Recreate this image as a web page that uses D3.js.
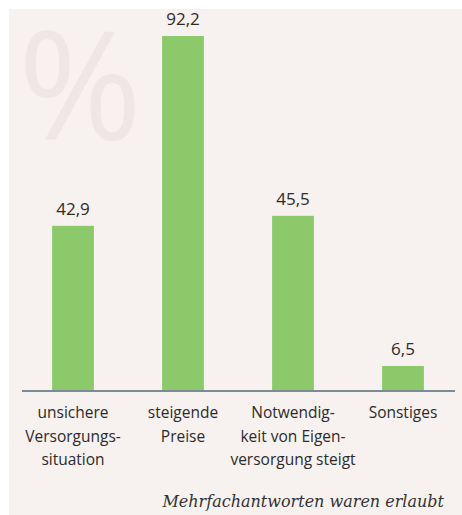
<!DOCTYPE html>
<html>
<head>
<meta charset="utf-8">
<script src="https://cdn.jsdelivr.net/npm/d3@7"></script>
<style>
  html, body { margin: 0; padding: 0; background: #ffffff; }
  svg { display: block; }
</style>
</head>
<body>
<div id="chart"></div>
<script>
// survey answers, percent (multiple answers allowed)
const categories = [
  ["unsichere", "Versorgungs-", "situation"],
  ["steigende", "Preise"],
  ["Notwendig-", "keit von Eigen-", "versorgung steigt"],
  ["Sonstiges"]
];
const values = [42.9, 92.2, 45.5, 6.5];
const valueLabels = ["42,9", "92,2", "45,5", "6,5"];
const footnote = "Mehrfachantworten waren erlaubt";

const W = 462, H = 515;
const base = 391;

const svg = d3.select("#chart").append("svg")
    .attr("width", W).attr("height", H);

// beige panel
svg.append("rect").attr("x", 9).attr("y", 9).attr("width", W - 9).attr("height", H - 9)
    .attr("fill", "#f7f2f0");

// big faint percent sign in the corner
svg.append("text")
    .attr("x", 80).attr("y", 140)
    .attr("text-anchor", "middle")
    .attr("font-family", "Open Sans, sans-serif")
    .attr("font-weight", 400)
    .attr("font-size", 150)
    .attr("fill", "#eee7e6")
    .text("%");

const x = d3.scaleBand().domain(d3.range(values.length))
    .range([18, 458]).paddingInner(0.62).paddingOuter(0.31);

const y = d3.scaleLinear().domain([0, 92.2]).range([base, 36]);

const bars = svg.append("g");
bars.selectAll("rect").data(values).join("rect")
    .attr("x", (d, i) => x(i))
    .attr("width", x.bandwidth())
    .attr("y", d => y(d))
    .attr("height", d => base - y(d))
    .attr("fill", "#8bc96b");

svg.append("g").selectAll("text").data(values).join("text")
    .attr("x", (d, i) => x(i) + x.bandwidth() / 2)
    .attr("y", d => y(d) - 11)
    .attr("text-anchor", "middle")
    .attr("font-family", "Open Sans, sans-serif")
    .attr("font-size", 17)
    .attr("fill", "#2b2b2b")
    .text((d, i) => valueLabels[i]);

// baseline
svg.append("line")
    .attr("x1", 22).attr("x2", 455)
    .attr("y1", base).attr("y2", base)
    .attr("stroke", "#7b8b97").attr("stroke-width", 2);

// category labels, several lines each
const cat = svg.append("g").selectAll("text").data(categories).join("text")
    .attr("x", (d, i) => x(i) + x.bandwidth() / 2)
    .attr("y", 418)
    .attr("text-anchor", "middle")
    .attr("font-family", "Open Sans, sans-serif")
    .attr("font-size", 15.5)
    .attr("fill", "#2b2b2b");
cat.selectAll("tspan").data(d => d).join("tspan")
    .attr("x", function(){ return this.parentNode.getAttribute("x"); })
    .attr("dy", (d, j) => j === 0 ? 0 : 23.5)
    .text(d => d);

svg.append("text")
    .attr("x", 444).attr("y", 507)
    .attr("text-anchor", "end")
    .attr("font-family", "DejaVu Serif, serif")
    .attr("font-style", "italic")
    .attr("font-size", 16)
    .attr("fill", "#333333")
    .text(footnote);
</script>
</body>
</html>
